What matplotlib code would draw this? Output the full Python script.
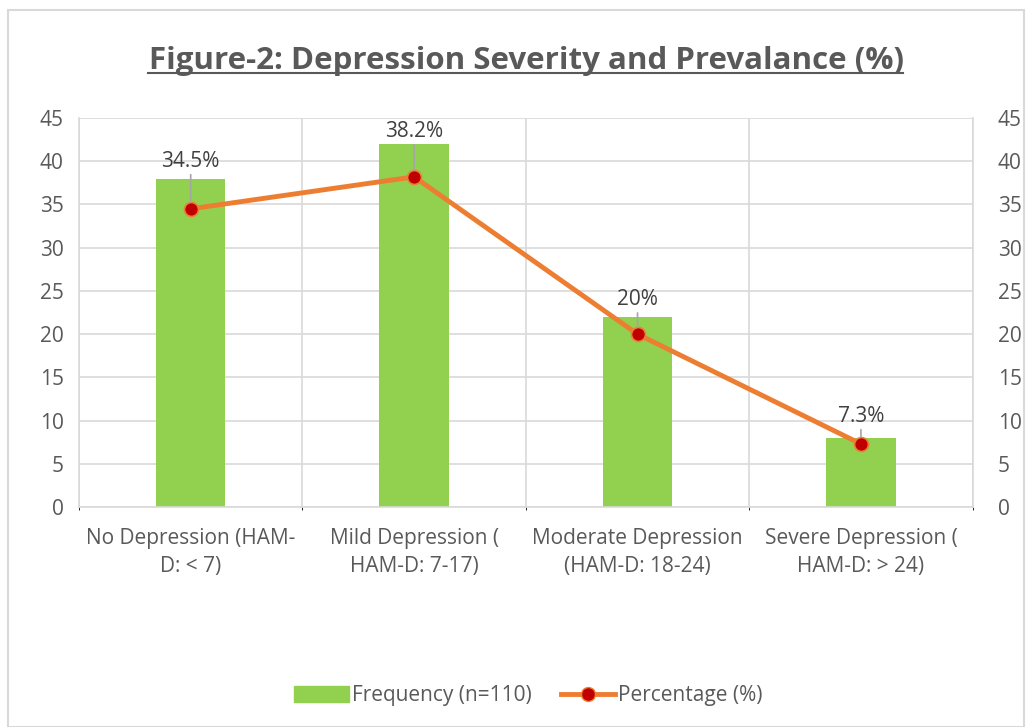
import matplotlib.pyplot as plt
from matplotlib.patches import Rectangle
from matplotlib.lines import Line2D
import numpy as np

categories = [
    "No Depression (HAM-\nD: < 7)",
    "Mild Depression (\nHAM-D: 7-17)",
    "Moderate Depression\n(HAM-D: 18-24)",
    "Severe Depression (\nHAM-D: > 24)",
]
frequency = [38, 42, 22, 8]
percentage = [34.5, 38.2, 20, 7.3]
pct_labels = ["34.5%", "38.2%", "20%", "7.3%"]
label_offsets = [37, 35, 24, 17]  # pixels above the point
yticks = list(range(0, 50, 5))

TEXT = "#595959"
GRID = "#D9D9D9"
BAR = "#92D050"
LINE = "#ED7D31"
MARK = "#C00000"

plt.rcParams["font.family"] = ["Open Sans", "DejaVu Sans"]

fig = plt.figure(figsize=(10.26, 7.27), dpi=100)
fig.patches.append(Rectangle((0.008, 0.0), 0.99, 0.986, transform=fig.transFigure,
                             fill=False, edgecolor=GRID, linewidth=1.5))

ax = fig.add_axes([0.077, 0.3026, 0.871, 0.535])
x = np.arange(len(categories))

ax.bar(x, frequency, width=0.31, color=BAR, zorder=2)
ax.set_xlim(-0.5, len(categories) - 0.5)
ax.set_ylim(0, 45)
ax.set_yticks(yticks)
ax.set_xticks(x)
ax.set_xticklabels(categories, fontsize=15, color=TEXT, linespacing=1.45)
ax.tick_params(axis="both", length=0, colors=TEXT, labelsize=15)
ax.tick_params(axis="x", pad=15)
ax.tick_params(axis="y", pad=11)
ax.set_xticks(np.arange(-0.5, len(categories), 1), minor=True)
ax.grid(axis="y", color=GRID, linewidth=1.2, zorder=0)
ax.grid(axis="x", which="minor", color=GRID, linewidth=1.2, zorder=0)
ax.grid(axis="x", which="major", visible=False)
for s in ax.spines.values():
    s.set_color(GRID)
    s.set_linewidth(1.2)
ax.spines["top"].set_visible(False)

ax2 = ax.twinx()
ax2.set_ylim(0, 45)
ax2.set_yticks(yticks)
ax2.tick_params(axis="y", length=0, colors=TEXT, labelsize=15, pad=18)
for s in ax2.spines.values():
    s.set_visible(False)
ax2.plot(x, percentage, color=LINE, linewidth=3.5, marker="o", markersize=10,
         markerfacecolor=MARK, markeredgecolor=LINE, markeredgewidth=1.2, zorder=3)

for xi, p, lab, off in zip(x, percentage, pct_labels, label_offsets):
    ax2.annotate(lab, xy=(xi, p), xytext=(0, off), textcoords="offset pixels",
                 ha="center", va="bottom", fontsize=15, color="#404040",
                 arrowprops=dict(arrowstyle="-", color="#A6A6A6", lw=1.2,
                                 shrinkA=0, shrinkB=5))

fig.text(0.513, 0.916, "Figure-2: Depression Severity and Prevalance (%)",
         ha="center", va="center", fontsize=22.5, fontweight="bold", color=TEXT)
fig.add_artist(Line2D([0.144, 0.880], [0.899, 0.899], color=TEXT, linewidth=1.5,
                      transform=fig.transFigure))

handles = [
    Rectangle((0, 0), 1, 1, color=BAR),
    Line2D([], [], color=LINE, linewidth=3.5, marker="o", markersize=10,
           markerfacecolor=MARK, markeredgecolor=LINE),
]
leg = fig.legend(handles, ["Frequency (n=110)", "Percentage (%)"], loc="center",
                 bbox_to_anchor=(0.515, 0.043), ncol=2, frameon=False,
                 fontsize=15, handlelength=2.6, handleheight=0.8,
                 columnspacing=1.4, handletextpad=0.15)
for t in leg.get_texts():
    t.set_color(TEXT)

fig.savefig("out.png", dpi=100)
